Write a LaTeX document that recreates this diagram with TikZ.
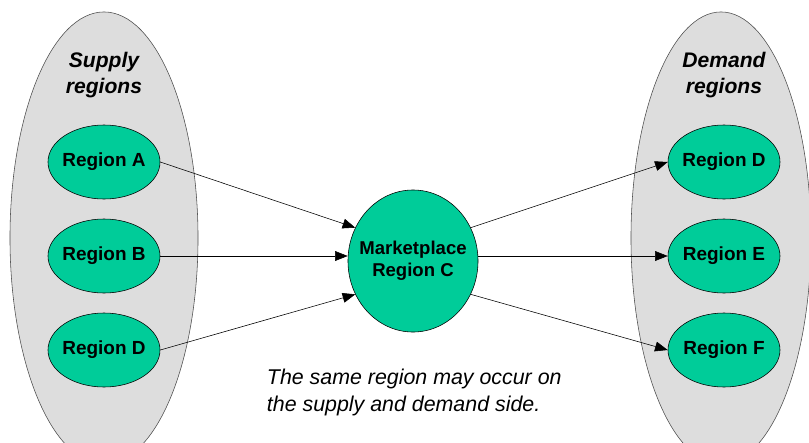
\documentclass[tikz,border=0pt]{standalone}
\usepackage{fontspec}
\setmainfont{Liberation Sans}
\usetikzlibrary{arrows.meta,shapes.geometric,positioning}
\definecolor{regiongreen}{RGB}{0,204,153}
\definecolor{sidegray}{RGB}{221,221,221}
\begin{document}
\begin{tikzpicture}[x=0.025cm,y=-0.025cm,
    region/.style={ellipse,draw=black,fill=regiongreen,minimum width=2.8cm,
      minimum height=1.85cm,inner xsep=-12pt,inner ysep=0pt,
      font=\fontsize{13.5}{15}\selectfont\bfseries},
    market/.style={ellipse,draw=black,fill=regiongreen,minimum width=3.25cm,
      minimum height=3.55cm,inner xsep=-16pt,inner ysep=0pt,align=center,
      font=\fontsize{13.2}{15.5}\selectfont\bfseries},
    side/.style={align=center,font=\fontsize{15}{18}\selectfont\bfseries\itshape},
    flow/.style={-{Triangle[length=9pt,width=7pt]},thin}]
    \clip (0,0) rectangle (809,442);
    \useasboundingbox (0,0) rectangle (809,442);
    % side ellipses
    \filldraw[fill=sidegray,draw=black!70] (104,238) ellipse (2.35cm and 5.65cm);
    \filldraw[fill=sidegray,draw=black!70] (721,238) ellipse (2.25cm and 5.65cm);
    \node[side] (supply) at (104,75) {Supply\\regions};
    \node[side] (demand) at (724,75) {Demand\\regions};
    % regions
    \node[region] (ra) at (104,162) {Region A};
    \node[region] (rb) at (104,256) {Region B};
    \node[region] (rd) at (104,350) {Region D};
    \node[market] (mc) at (413,261) {Marketplace\\Region C};
    \node[region] (dd) at (724,162) {Region D};
    \node[region] (de) at (724,256) {Region E};
    \node[region] (df) at (724,350) {Region F};
    % flows
    \draw[flow] (ra.east) -- (mc.150);
    \draw[flow] (rb.east) -- (rb.east -| mc.west);
    \draw[flow] (rd.east) -- (mc.210);
    \draw[flow] (mc.30) -- (dd.west);
    \draw[flow] (de.west -| mc.east) -- (de.west);
    \draw[flow] (mc.-30) -- (df.west);
    \node[anchor=north west,align=left,font=\fontsize{15.2}{19.5}\selectfont\itshape]
      (note) at (262,364) {The same region may occur on\\the supply and demand side.};
\end{tikzpicture}
\end{document}
